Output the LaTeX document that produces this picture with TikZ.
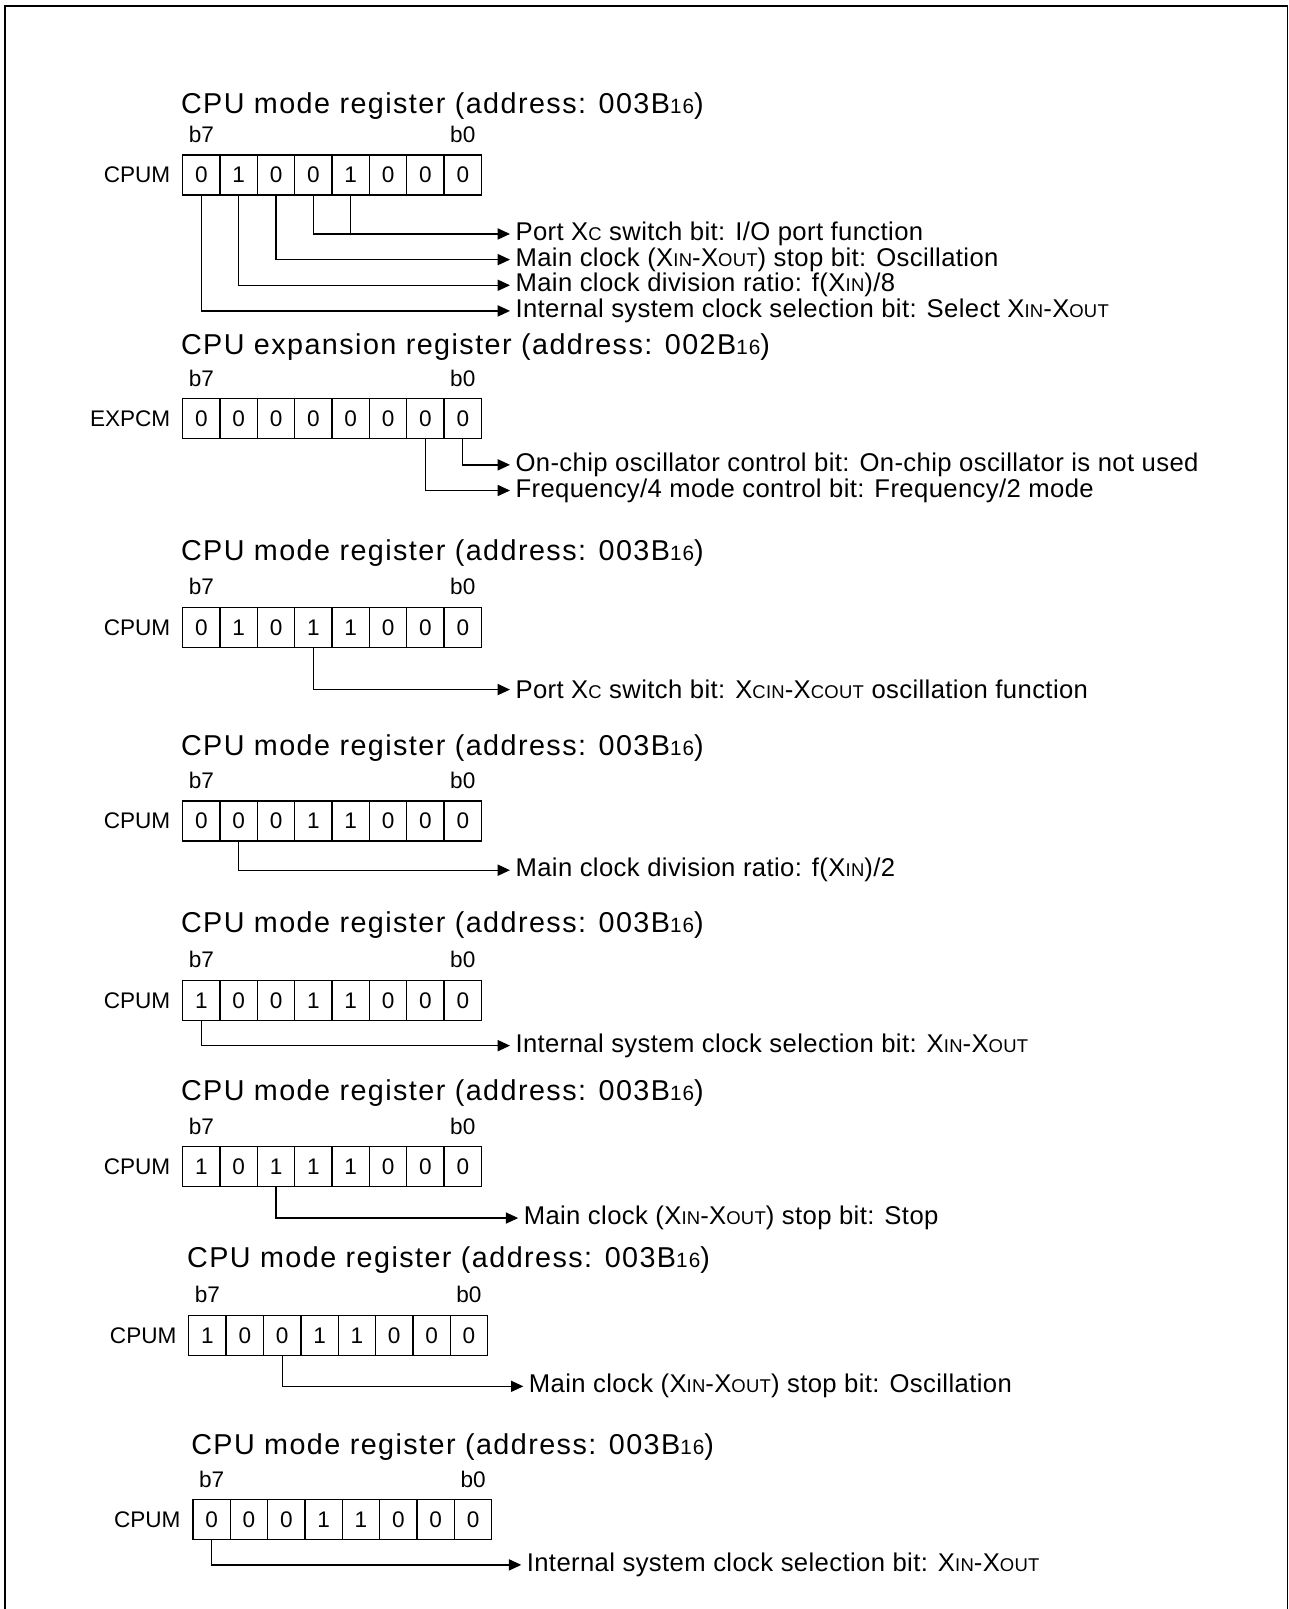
\documentclass[tikz,border=0pt]{standalone}
\usepackage{fontspec}
\setmainfont{Liberation Sans}
\newfontfamily\titlefont{Liberation Sans}[LetterSpace=5.0]
\newfontfamily\notefont{Liberation Sans}[LetterSpace=1.5]
\usetikzlibrary{arrows.meta, positioning}

\newcommand\sm[1]{\scalebox{0.72}{#1}}

\begin{document}
\begin{tikzpicture}[x=0.5pt, y=-0.5pt, >={Triangle[length=6pt,width=5.4pt]},
  cell/.style={draw, line width=0.65pt, minimum width=18.2pt, minimum height=19.5pt, inner sep=0pt, font=\fontsize{11}{11}\selectfont},
  bitno/.style={inner sep=0pt, font=\fontsize{11}{11}\selectfont},
  regname/.style={inner sep=0pt, font=\fontsize{11}{11}\selectfont},
  title/.style={anchor=base west, inner sep=0pt, font=\titlefont\fontsize{14}{14}\selectfont},
  note/.style={anchor=west, inner sep=2.5pt, font=\notefont\fontsize{12.5}{12.5}\selectfont},
  wire/.style={line width=0.65pt}]
  \useasboundingbox (0,0) rectangle (1256,1568);
  % frame
  \draw[line width=0.85pt] (4.6,1600) -- (4.6,5.5) -- (1254.6,5.5) -- (1254.6,1600);

  % CPUM, first setting
  \node[title] (r1title) at (176,111) {CPU mode register (address: 003B\sm{16})};
  \foreach \v [count=\i from 0] in {0,1,0,0,1,0,0,0} {
    \pgfmathtruncatemacro\b{7-\i}
    \node[cell] (r1c\b) at (196.2+36.4*\i,170.5) {\v};
  }
  \node[bitno, above=5.5pt of r1c7] (r1b7) {b7};
  \node[bitno, above=5.5pt of r1c0] (r1b0) {b0};
  \node[regname, left=5.5pt of r1c7] (r1name) {CPUM};
  \node[note] (t1a) at (497,228) {Port X\sm{C} switch bit: I/O port function};
  \node[note] (t1b) at (497,253) {Main clock (X\sm{IN}-X\sm{OUT}) stop bit: Oscillation};
  \node[note] (t1c) at (497,278) {Main clock division ratio: f(X\sm{IN})/8};
  \node[note] (t1d) at (497,303) {Internal system clock selection bit: Select X\sm{IN}-X\sm{OUT}};
  \draw[wire] (r1c3.south) -- (r1c3.south |- t1a.west);
  \draw[wire,->] (r1c4.south) |- (t1a.west);
  \draw[wire,->] (r1c5.south) |- (t1b.west);
  \draw[wire,->] (r1c6.south) |- (t1c.west);
  \draw[wire,->] (r1c7.south) |- (t1d.west);

  % EXPCM
  \node[title] (r2title) at (176,345) {CPU expansion register (address: 002B\sm{16})};
  \foreach \v [count=\i from 0] in {0,0,0,0,0,0,0,0} {
    \pgfmathtruncatemacro\b{7-\i}
    \node[cell] (r2c\b) at (196.2+36.4*\i,408) {\v};
  }
  \node[bitno, above=5.5pt of r2c7] (r2b7) {b7};
  \node[bitno, above=5.5pt of r2c0] (r2b0) {b0};
  \node[regname, left=5.5pt of r2c7] (r2name) {EXPCM};
  \node[note] (t2a) at (497,453) {On-chip oscillator control bit: On-chip oscillator is not used};
  \node[note] (t2b) at (497,478) {Frequency/4 mode control bit: Frequency/2 mode};
  \draw[wire,->] (r2c0.south) |- (t2a.west);
  \draw[wire,->] (r2c1.south) |- (t2b.west);

  % CPUM, XCIN-XCOUT on
  \node[title] (r3title) at (176,546) {CPU mode register (address: 003B\sm{16})};
  \foreach \v [count=\i from 0] in {0,1,0,1,1,0,0,0} {
    \pgfmathtruncatemacro\b{7-\i}
    \node[cell] (r3c\b) at (196.2+36.4*\i,611.5) {\v};
  }
  \node[bitno, above=5.5pt of r3c7] (r3b7) {b7};
  \node[bitno, above=5.5pt of r3c0] (r3b0) {b0};
  \node[regname, left=5.5pt of r3c7] (r3name) {CPUM};
  \node[note] (t3a) at (497,672) {Port X\sm{C} switch bit: X\sm{CIN}-X\sm{COUT} oscillation function};
  \draw[wire,->] (r3c4.south) |- (t3a.west);

  % CPUM, divide by 2
  \node[title] (r4title) at (176,736) {CPU mode register (address: 003B\sm{16})};
  \foreach \v [count=\i from 0] in {0,0,0,1,1,0,0,0} {
    \pgfmathtruncatemacro\b{7-\i}
    \node[cell] (r4c\b) at (196.2+36.4*\i,800) {\v};
  }
  \node[bitno, above=5.5pt of r4c7] (r4b7) {b7};
  \node[bitno, above=5.5pt of r4c0] (r4b0) {b0};
  \node[regname, left=5.5pt of r4c7] (r4name) {CPUM};
  \node[note] (t4a) at (497,848) {Main clock division ratio: f(X\sm{IN})/2};
  \draw[wire,->] (r4c6.south) |- (t4a.west);

  % CPUM, XCIN-XCOUT selected
  \node[title] (r5title) at (176,909) {CPU mode register (address: 003B\sm{16})};
  \foreach \v [count=\i from 0] in {1,0,0,1,1,0,0,0} {
    \pgfmathtruncatemacro\b{7-\i}
    \node[cell] (r5c\b) at (196.2+36.4*\i,975) {\v};
  }
  \node[bitno, above=5.5pt of r5c7] (r5b7) {b7};
  \node[bitno, above=5.5pt of r5c0] (r5b0) {b0};
  \node[regname, left=5.5pt of r5c7] (r5name) {CPUM};
  \node[note] (t5a) at (497,1019) {Internal system clock selection bit: X\sm{IN}-X\sm{OUT}};
  \draw[wire,->] (r5c7.south) |- (t5a.west);

  % CPUM, main clock stopped
  \node[title] (r6title) at (176,1072) {CPU mode register (address: 003B\sm{16})};
  \foreach \v [count=\i from 0] in {1,0,1,1,1,0,0,0} {
    \pgfmathtruncatemacro\b{7-\i}
    \node[cell] (r6c\b) at (196.2+36.4*\i,1137) {\v};
  }
  \node[bitno, above=5.5pt of r6c7] (r6b7) {b7};
  \node[bitno, above=5.5pt of r6c0] (r6b0) {b0};
  \node[regname, left=5.5pt of r6c7] (r6name) {CPUM};
  \node[note] (t6a) at (505,1187) {Main clock (X\sm{IN}-X\sm{OUT}) stop bit: Stop};
  \draw[wire,->] (r6c5.south) |- (t6a.west);

  % CPUM, main clock restarted
  \node[title] (r7title) at (182,1235) {CPU mode register (address: 003B\sm{16})};
  \foreach \v [count=\i from 0] in {1,0,0,1,1,0,0,0} {
    \pgfmathtruncatemacro\b{7-\i}
    \node[cell] (r7c\b) at (202.2+36.4*\i,1301.5) {\v};
  }
  \node[bitno, above=5.5pt of r7c7] (r7b7) {b7};
  \node[bitno, above=5.5pt of r7c0] (r7b0) {b0};
  \node[regname, left=5.5pt of r7c7] (r7name) {CPUM};
  \node[note] (t7a) at (510,1351) {Main clock (X\sm{IN}-X\sm{OUT}) stop bit: Oscillation};
  \draw[wire,->] (r7c5.south) |- (t7a.west);

  % CPUM, back to XIN-XOUT
  \node[title] (r8title) at (186,1417) {CPU mode register (address: 003B\sm{16})};
  \foreach \v [count=\i from 0] in {0,0,0,1,1,0,0,0} {
    \pgfmathtruncatemacro\b{7-\i}
    \node[cell] (r8c\b) at (206.2+36.4*\i,1481) {\v};
  }
  \node[bitno, above=5.5pt of r8c7] (r8b7) {b7};
  \node[bitno, above=5.5pt of r8c0] (r8b0) {b0};
  \node[regname, left=5.5pt of r8c7] (r8name) {CPUM};
  \node[note] (t8a) at (508,1525) {Internal system clock selection bit: X\sm{IN}-X\sm{OUT}};
  \draw[wire,->] (r8c7.south) |- (t8a.west);
\end{tikzpicture}
\end{document}
